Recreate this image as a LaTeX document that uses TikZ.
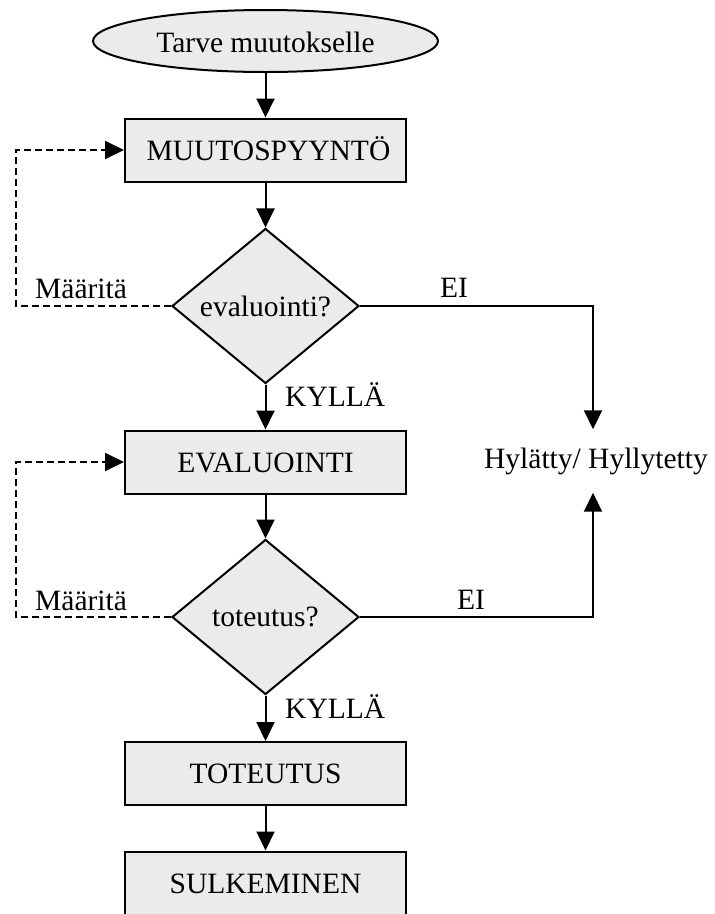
\documentclass[tikz,border=0pt]{standalone}
\usepackage{fontspec}
\setmainfont{Liberation Serif}
\usetikzlibrary{shapes.geometric,arrows.meta}
\definecolor{boxgray}{RGB}{235,235,235}
\begin{document}
\begin{tikzpicture}[x=1pt,y=-1pt,
  font=\fontsize{29.5}{35}\selectfont,
  flow/.style={-{Triangle[length=19pt,width=18pt]}, line width=2pt},
  loopback/.style={flow, dash pattern=on 7pt off 4pt},
  stepbox/.style={draw, line width=2pt, fill=boxgray, minimum width=281pt,
    minimum height=63pt, inner sep=0pt, text height=20pt, text depth=0pt},
  decision/.style={diamond, aspect=1.2, draw, line width=2pt, fill=boxgray,
    minimum width=187pt, minimum height=155pt, inner sep=0pt},
  startnode/.style={ellipse, draw, line width=2pt, fill=boxgray,
    minimum width=345pt, minimum height=62pt, inner sep=0pt,
    text height=23pt, text depth=0pt},
  lbl/.style={anchor=base west, inner sep=0pt}
]
\useasboundingbox (0,0) rectangle (715,914);

% main column
\node[startnode] (start) at (265.5,41) {Tarve muutokselle};
\node[stepbox] (req) at (265.5,150) {\hspace{6pt}MUUTOSPYYNTÖ};
\node[decision] (q1) at (265.5,306) {evaluointi?};
\node[stepbox] (eval) at (265.5,462) {EVALUOINTI};
\node[decision] (q2) at (265.5,617) {toteutus?};
\node[stepbox] (impl) at (265.5,773.5) {TOTEUTUS};
\node[stepbox] (close) at (265.5,883) {SULKEMINEN};

% rejection outcome
\node[minimum height=63pt, inner sep=0pt] (rej) at (596,461) {Hylätty/ Hyllytetty};

% branch labels
\node[lbl] (yes1) at (285,406) {KYLLÄ};
\node[lbl] (yes2) at (285,718) {KYLLÄ};
\node[lbl] (no1) at (440,297) {EI};
\node[lbl] (no2) at (457,609) {EI};
\node[lbl] (def1) at (35,298) {Määritä};
\node[lbl] (def2) at (35,610) {Määritä};

% corners of the dashed return paths
\coordinate (c1) at (16,306);
\coordinate (c2) at (16,617);
\coordinate (r1) at (593,306);
\coordinate (r2) at (593,617);

% connectors
\draw[flow] (start) -- (req);
\draw[flow] (req) -- (q1);
\draw[flow] (q1) -- (eval);
\draw[flow] (eval) -- (q2);
\draw[flow] (q2) -- (impl);
\draw[flow] (impl) -- (close);
\draw[flow] (q1.east) -- (r1) -- (r1 |- rej.north);
\draw[flow] (q2.east) -- (r2) -- (r2 |- rej.south);
\draw[loopback] (q1.west) -- (c1) |- (req.west);
\draw[loopback] (q2.west) -- (c2) |- (eval.west);
\end{tikzpicture}
\end{document}
